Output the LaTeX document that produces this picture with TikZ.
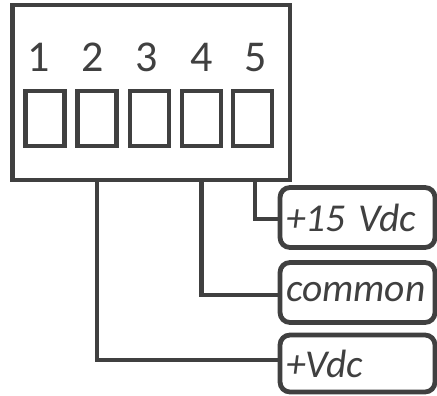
\documentclass[tikz,border=0pt]{standalone}
\usepackage{fontspec}
\setmainfont{Carlito}
\usepackage{tikz}
\usetikzlibrary{positioning}
% color of lines and text
\colorlet{colLine}{black!75}
% color of label boxes
\colorlet{colBox}{white}
\newcommand{\pinfont}{\fontsize{44}{44}\selectfont}
\newcommand{\wirefont}{\fontsize{39.5}{39.5}\selectfont\itshape}
\newcommand{\definitions}{%
  % center coordinate of terminal block
  \coordinate (oBlock) at (151.25, 92.5);
  % center coordinate of first terminal
  \coordinate (oPin) at (45, 118.5);
  % x position of wire to terminal 5
  \coordinate (oWire5) at (255, 0);
}

\begin{document}
\begin{tikzpicture}[x=1pt, y=-1pt, line width=4.8pt, color=colLine,
    pin/.style={draw, line width=4.3pt, minimum width=39pt, minimum height=55pt, inner sep=0pt},
    wirebox/.style={draw, fill=colBox, rounded corners=10pt, text width=143pt, align=left,
      inner xsep=6pt, minimum height=#1, font=\wirefont},
    wirebox/.default=60pt]

  % define coordinates
  \definitions
  \useasboundingbox (0, 0) rectangle (437, 396);

  % terminal block
  \node[draw, minimum width=277.5pt, minimum height=175pt, inner sep=0pt] (block) at (oBlock) {};

  % terminals
  \node[pin] (t1) at (oPin) {};
  \node[pin] (t2) at (97, 118.5) {};
  \node[pin] (t3) at (149.5, 118.5) {};
  \node[pin] (t4) at (201.5, 118.5) {};
  \node[pin] (t5) at (252.5, 118.5) {};

  % terminal numbers
  \node[font=\pinfont, inner sep=0pt, anchor=base] (n1) at (39, 72) {1};
  \node[font=\pinfont, inner sep=0pt, anchor=base] (n2) at (93, 72) {2};
  \node[font=\pinfont, inner sep=0pt, anchor=base] (n3) at (147, 72) {3};
  \node[font=\pinfont, inner sep=0pt, anchor=base] (n4) at (202, 72) {4};
  \node[font=\pinfont, inner sep=0pt, anchor=base] (n5) at (256, 72) {5};

  % wire labels
  \node[wirebox] (v15) at (357.5, 217.5) {+15 Vdc};
  \node[wirebox] (com) at (357.5, 292.5) {common};
  \node[wirebox=57pt] (vdc) at (357.5, 363.5) {+Vdc};

  % wires from block to labels
  \draw (block.south -| oWire5) |- ([yshift=-1.5pt]v15.west);
  \draw (block.south -| t4) |- ([yshift=-2.5pt]com.west);
  \draw (block.south -| t2) |- ([yshift=3.5pt]vdc.west);

\end{tikzpicture}
\end{document}
